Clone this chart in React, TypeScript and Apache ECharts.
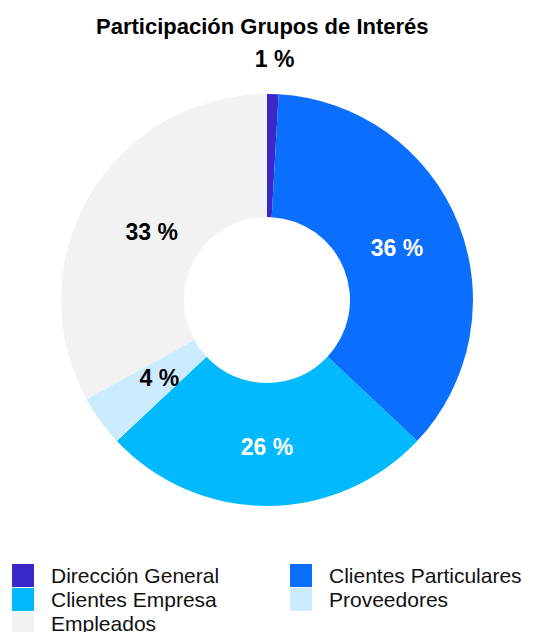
import React, { useEffect, useRef } from "react";
import * as echarts from "echarts";

const TITLE = "Participación Grupos de Interés";
const CATEGORIES = [
  "Dirección General",
  "Clientes Particulares",
  "Clientes Empresa",
  "Proveedores",
  "Empleados",
];
const VALUES = [0.9, 36.1, 26, 4, 33];
const COLORS = ["#3b28c9", "#0a6eff", "#00b9ff", "#cbebff", "#f2f2f2"];
const LABEL_COLORS = ["#000000", "#ffffff", "#ffffff", "#000000", "#000000"];
const LEGEND_LEFT = ["Dirección General", "Clientes Empresa", "Empleados"];
const LEGEND_RIGHT = ["Clientes Particulares", "Proveedores"];

// label distance from the pie centre for each slice (inside labels)
const LABEL_RADIUS = [0, 140, 147, 133, 134];
const CENTER = [267, 300];

export default function App() {
  const ref = useRef<HTMLDivElement>(null);
  useEffect(() => {
    document.body.style.margin = "0";
    const chart = echarts.init(ref.current!, null, { renderer: "svg" });
    const font = "'Liberation Sans', Arial, sans-serif";
    const legendCommon = {
      orient: "vertical",
      top: 564,
      height: 90,
      padding: 0,
      itemWidth: 22,
      itemHeight: 23,
      itemGap: 1,
      icon: "rect",
      selectedMode: false,
      textStyle: { fontSize: 21, color: "#111", fontFamily: font, padding: [0, 0, 0, 12] },
    };
    chart.setOption({
      animation: false,
      textStyle: { fontFamily: font },
      title: {
        text: TITLE,
        left: 96,
        top: 15,
        padding: 0,
        textStyle: { fontSize: 22, fontWeight: "bold", color: "#000", fontFamily: font },
      },
      legend: [
        { ...legendCommon, left: 12, data: LEGEND_LEFT },
        { ...legendCommon, left: 290, data: LEGEND_RIGHT },
      ],
      series: [
        {
          type: "pie",
          center: CENTER,
          radius: [83, 206],
          startAngle: 90,
          clockwise: true,
          avoidLabelOverlap: false,
          itemStyle: { borderWidth: 0 },
          label: {
            show: true,
            position: "inside",
            fontSize: 23,
            fontWeight: "bold",
            fontFamily: font,
            formatter: (p: any) => Math.round(p.percent) + " %",
          },
          labelLine: { show: false },
          labelLayout: (p: any) => {
            const r = p.labelRect;
            if (p.dataIndex === 0) {
              return { dx: -r.width / 2 - 4, dy: -9 };
            }
            const cx = r.x + r.width / 2;
            const cy = r.y + r.height / 2;
            const vx = cx - CENTER[0];
            const vy = cy - CENTER[1];
            const d = Math.sqrt(vx * vx + vy * vy) || 1;
            const k = LABEL_RADIUS[p.dataIndex] / d;
            return { dx: vx * k - vx, dy: vy * k - vy };
          },
          data: CATEGORIES.map((name, i) => ({
            name,
            value: VALUES[i],
            itemStyle: { color: COLORS[i] },
            label:
              i === 0
                ? { position: "outside", color: LABEL_COLORS[i] }
                : { color: LABEL_COLORS[i] },
            labelLine: i === 0 ? { show: false, length: 26, length2: 0 } : undefined,
          })),
        },
      ],
    });
    return () => chart.dispose();
  }, []);
  return (
    <div
      ref={ref}
      style={{ width: 533, height: 632, position: "absolute", left: 0, top: 0 }}
    />
  );
}
